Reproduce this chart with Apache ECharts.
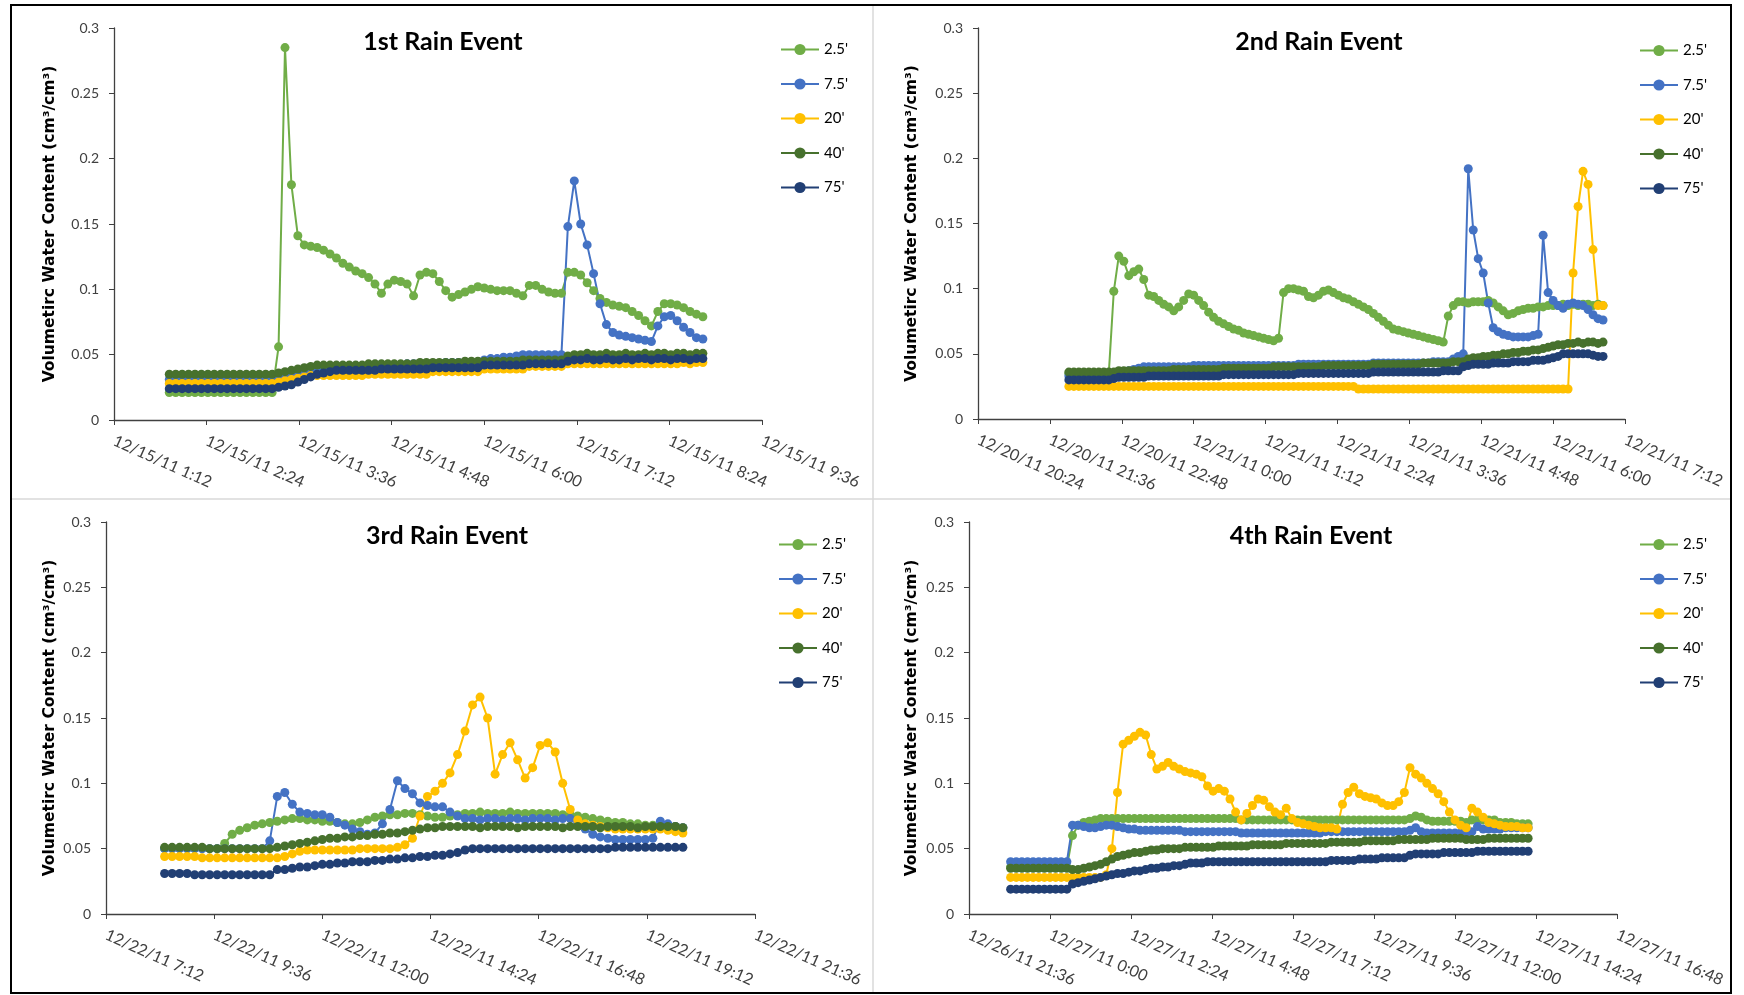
<!DOCTYPE html>
<html>
<head>
<meta charset="utf-8">
<title>Volumetric water content - rain events</title>
<script src="https://cdn.jsdelivr.net/npm/echarts@6/dist/echarts.min.js"></script>
<style>
  html, body { margin: 0; padding: 0; background: #fff; }
  #chart { width: 1744px; height: 995px; }
</style>
</head>
<body>
<div id="chart"></div>
<script>
// sensor depths and colours (same in every panel)
const depths = ["2.5'", "7.5'", "20'", "40'", "75'"]
const depthColors = ['#70ad47', '#4472c4', '#ffc000', '#47712d', '#213f74']

// x values are minutes after midnight of the first day of each event
// ---- 1st rain event: samples every 5 min from 1:55 ----
const ticks1 = ['12/15/11 1:12', '12/15/11 2:24', '12/15/11 3:36', '12/15/11 4:48', '12/15/11 6:00', '12/15/11 7:12', '12/15/11 8:24', '12/15/11 9:36']
const start1 = 115, step1 = 5
const e1_25 = [
  0.021, 0.021, 0.021, 0.021, 0.021, 0.021, 0.021, 0.021, 0.021, 0.021,
  0.021, 0.021, 0.021, 0.021, 0.021, 0.021, 0.021, 0.056, 0.285, 0.180,
  0.141, 0.134, 0.133, 0.132, 0.130, 0.127, 0.124, 0.120, 0.117, 0.114,
  0.112, 0.109, 0.104, 0.097, 0.104, 0.107, 0.106, 0.104, 0.095, 0.111,
  0.113, 0.112, 0.106, 0.099, 0.094, 0.096, 0.098, 0.100, 0.102, 0.101,
  0.100, 0.099, 0.099, 0.099, 0.097, 0.095, 0.103, 0.103, 0.100, 0.098,
  0.097, 0.097, 0.113, 0.113, 0.111, 0.105, 0.099, 0.093, 0.090, 0.088,
  0.087, 0.086, 0.083, 0.080, 0.076, 0.072, 0.083, 0.089, 0.089, 0.088,
  0.086, 0.083, 0.081, 0.079
]
const e1_75 = [
  0.031, 0.031, 0.031, 0.031, 0.031, 0.031, 0.031, 0.031, 0.031, 0.031,
  0.031, 0.031, 0.031, 0.031, 0.031, 0.031, 0.031, 0.032, 0.033, 0.034,
  0.036, 0.038, 0.039, 0.039, 0.040, 0.040, 0.041, 0.041, 0.041, 0.041,
  0.041, 0.042, 0.042, 0.042, 0.042, 0.042, 0.042, 0.043, 0.043, 0.043,
  0.043, 0.043, 0.043, 0.044, 0.044, 0.044, 0.044, 0.044, 0.044, 0.046,
  0.047, 0.047, 0.048, 0.048, 0.049, 0.050, 0.050, 0.050, 0.050, 0.050,
  0.050, 0.050, 0.148, 0.183, 0.150, 0.134, 0.112, 0.089, 0.073, 0.067,
  0.065, 0.064, 0.063, 0.062, 0.061, 0.060, 0.072, 0.079, 0.080, 0.076,
  0.071, 0.067, 0.063, 0.062
]
const e1_20 = [
  0.028, 0.028, 0.028, 0.028, 0.028, 0.028, 0.028, 0.028, 0.028, 0.028,
  0.028, 0.028, 0.028, 0.028, 0.028, 0.028, 0.028, 0.029, 0.030, 0.031,
  0.032, 0.033, 0.034, 0.034, 0.034, 0.034, 0.034, 0.034, 0.034, 0.034,
  0.034, 0.035, 0.035, 0.035, 0.035, 0.035, 0.035, 0.035, 0.035, 0.035,
  0.035, 0.037, 0.037, 0.037, 0.037, 0.037, 0.037, 0.037, 0.037, 0.039,
  0.039, 0.039, 0.039, 0.039, 0.039, 0.039, 0.041, 0.041, 0.041, 0.041,
  0.041, 0.041, 0.043, 0.043, 0.043, 0.043, 0.043, 0.043, 0.043, 0.043,
  0.043, 0.043, 0.043, 0.043, 0.043, 0.043, 0.043, 0.043, 0.043, 0.043,
  0.044, 0.043, 0.044, 0.044
]
const e1_40 = [
  0.035, 0.035, 0.035, 0.035, 0.035, 0.035, 0.035, 0.035, 0.035, 0.035,
  0.035, 0.035, 0.035, 0.035, 0.035, 0.035, 0.035, 0.036, 0.037, 0.038,
  0.039, 0.040, 0.041, 0.042, 0.042, 0.042, 0.042, 0.042, 0.042, 0.042,
  0.042, 0.043, 0.043, 0.043, 0.043, 0.043, 0.043, 0.043, 0.043, 0.044,
  0.044, 0.044, 0.044, 0.044, 0.044, 0.044, 0.045, 0.045, 0.045, 0.045,
  0.045, 0.045, 0.045, 0.045, 0.045, 0.046, 0.046, 0.046, 0.046, 0.046,
  0.046, 0.046, 0.049, 0.050, 0.050, 0.051, 0.050, 0.050, 0.051, 0.050,
  0.050, 0.051, 0.050, 0.050, 0.051, 0.050, 0.051, 0.051, 0.050, 0.051,
  0.051, 0.050, 0.051, 0.051
]
const e1_75ft = [
  0.024, 0.024, 0.024, 0.024, 0.024, 0.024, 0.024, 0.024, 0.024, 0.024,
  0.024, 0.024, 0.024, 0.024, 0.024, 0.024, 0.024, 0.025, 0.026, 0.027,
  0.029, 0.031, 0.033, 0.035, 0.036, 0.037, 0.038, 0.038, 0.038, 0.038,
  0.038, 0.038, 0.038, 0.039, 0.039, 0.039, 0.039, 0.039, 0.039, 0.039,
  0.039, 0.040, 0.040, 0.040, 0.040, 0.040, 0.040, 0.040, 0.040, 0.042,
  0.042, 0.042, 0.042, 0.042, 0.042, 0.042, 0.043, 0.043, 0.043, 0.043,
  0.043, 0.043, 0.045, 0.046, 0.046, 0.047, 0.046, 0.046, 0.047, 0.046,
  0.046, 0.047, 0.046, 0.047, 0.047, 0.046, 0.047, 0.047, 0.046, 0.047,
  0.047, 0.046, 0.047, 0.047
]

// ---- 2nd rain event: samples every 5 min from 21:55 ----
const ticks2 = ['12/20/11 20:24', '12/20/11 21:36', '12/20/11 22:48', '12/21/11 0:00', '12/21/11 1:12', '12/21/11 2:24', '12/21/11 3:36', '12/21/11 4:48', '12/21/11 6:00', '12/21/11 7:12']
const start2 = 1315, step2 = 5
const e2_25 = [
  0.035, 0.035, 0.035, 0.035, 0.035, 0.035, 0.035, 0.035, 0.035, 0.098,
  0.125, 0.121, 0.110, 0.113, 0.115, 0.107, 0.095, 0.094, 0.091, 0.088,
  0.086, 0.083, 0.086, 0.091, 0.096, 0.095, 0.091, 0.087, 0.082, 0.078,
  0.075, 0.073, 0.071, 0.069, 0.068, 0.066, 0.065, 0.064, 0.063, 0.062,
  0.061, 0.060, 0.062, 0.097, 0.100, 0.100, 0.099, 0.098, 0.094, 0.093,
  0.095, 0.098, 0.099, 0.097, 0.095, 0.093, 0.092, 0.090, 0.088, 0.086,
  0.084, 0.081, 0.078, 0.075, 0.072, 0.069, 0.068, 0.067, 0.066, 0.065,
  0.064, 0.063, 0.062, 0.061, 0.060, 0.059, 0.079, 0.087, 0.090, 0.090,
  0.089, 0.090, 0.090, 0.090, 0.091, 0.089, 0.086, 0.083, 0.080, 0.081,
  0.083, 0.084, 0.085, 0.085, 0.086, 0.086, 0.087, 0.087, 0.087, 0.088,
  0.087, 0.088, 0.087, 0.088, 0.088, 0.087, 0.088, 0.087
]
const e2_75 = [
  0.033, 0.033, 0.033, 0.033, 0.033, 0.033, 0.033, 0.033, 0.033, 0.034,
  0.035, 0.036, 0.037, 0.038, 0.039, 0.040, 0.040, 0.040, 0.040, 0.040,
  0.040, 0.040, 0.040, 0.040, 0.040, 0.041, 0.041, 0.041, 0.041, 0.041,
  0.041, 0.041, 0.041, 0.041, 0.041, 0.041, 0.041, 0.041, 0.041, 0.041,
  0.041, 0.041, 0.041, 0.041, 0.041, 0.041, 0.042, 0.042, 0.042, 0.042,
  0.042, 0.042, 0.042, 0.042, 0.042, 0.042, 0.042, 0.042, 0.042, 0.042,
  0.042, 0.043, 0.043, 0.043, 0.043, 0.043, 0.043, 0.043, 0.043, 0.043,
  0.043, 0.043, 0.043, 0.044, 0.044, 0.044, 0.044, 0.046, 0.048, 0.050,
  0.192, 0.145, 0.123, 0.112, 0.089, 0.070, 0.067, 0.065, 0.064, 0.063,
  0.063, 0.063, 0.063, 0.064, 0.065, 0.141, 0.097, 0.091, 0.087, 0.085,
  0.088, 0.089, 0.088, 0.087, 0.084, 0.080, 0.077, 0.076
]
const e2_20 = [
  0.025, 0.025, 0.025, 0.025, 0.025, 0.025, 0.025, 0.025, 0.025, 0.025,
  0.025, 0.025, 0.025, 0.025, 0.025, 0.025, 0.025, 0.025, 0.025, 0.025,
  0.025, 0.025, 0.025, 0.025, 0.025, 0.025, 0.025, 0.025, 0.025, 0.025,
  0.025, 0.025, 0.025, 0.025, 0.025, 0.025, 0.025, 0.025, 0.025, 0.025,
  0.025, 0.025, 0.025, 0.025, 0.025, 0.025, 0.025, 0.025, 0.025, 0.025,
  0.025, 0.025, 0.025, 0.025, 0.025, 0.025, 0.025, 0.025, 0.023, 0.023,
  0.023, 0.023, 0.023, 0.023, 0.023, 0.023, 0.023, 0.023, 0.023, 0.023,
  0.023, 0.023, 0.023, 0.023, 0.023, 0.023, 0.023, 0.023, 0.023, 0.023,
  0.023, 0.023, 0.023, 0.023, 0.023, 0.023, 0.023, 0.023, 0.023, 0.023,
  0.023, 0.023, 0.023, 0.023, 0.023, 0.023, 0.023, 0.023, 0.023, 0.023,
  0.023, 0.112, 0.163, 0.190, 0.180, 0.130, 0.087, 0.087
]
const e2_40 = [
  0.036, 0.036, 0.036, 0.036, 0.036, 0.036, 0.036, 0.036, 0.036, 0.036,
  0.037, 0.037, 0.037, 0.037, 0.037, 0.037, 0.037, 0.037, 0.037, 0.037,
  0.037, 0.038, 0.038, 0.038, 0.038, 0.038, 0.038, 0.038, 0.038, 0.038,
  0.038, 0.039, 0.039, 0.039, 0.039, 0.039, 0.039, 0.039, 0.039, 0.039,
  0.039, 0.040, 0.040, 0.040, 0.040, 0.040, 0.040, 0.040, 0.040, 0.040,
  0.040, 0.041, 0.041, 0.041, 0.041, 0.041, 0.041, 0.041, 0.041, 0.041,
  0.041, 0.042, 0.042, 0.042, 0.042, 0.042, 0.042, 0.042, 0.042, 0.042,
  0.042, 0.043, 0.043, 0.043, 0.043, 0.043, 0.043, 0.044, 0.044, 0.044,
  0.046, 0.047, 0.047, 0.048, 0.048, 0.049, 0.049, 0.050, 0.050, 0.051,
  0.051, 0.052, 0.052, 0.053, 0.053, 0.054, 0.055, 0.056, 0.057, 0.057,
  0.058, 0.058, 0.059, 0.058, 0.059, 0.059, 0.058, 0.059
]
const e2_75ft = [
  0.030, 0.030, 0.030, 0.030, 0.030, 0.030, 0.030, 0.030, 0.030, 0.031,
  0.032, 0.032, 0.032, 0.032, 0.032, 0.032, 0.033, 0.033, 0.033, 0.033,
  0.033, 0.033, 0.033, 0.033, 0.033, 0.033, 0.033, 0.033, 0.033, 0.033,
  0.033, 0.034, 0.034, 0.034, 0.034, 0.034, 0.034, 0.034, 0.034, 0.034,
  0.034, 0.034, 0.034, 0.034, 0.034, 0.034, 0.035, 0.035, 0.035, 0.035,
  0.035, 0.035, 0.035, 0.035, 0.035, 0.035, 0.035, 0.035, 0.035, 0.035,
  0.035, 0.036, 0.036, 0.036, 0.036, 0.036, 0.036, 0.036, 0.036, 0.036,
  0.036, 0.036, 0.036, 0.036, 0.036, 0.037, 0.037, 0.037, 0.037, 0.040,
  0.041, 0.042, 0.042, 0.042, 0.042, 0.043, 0.043, 0.043, 0.043, 0.044,
  0.044, 0.044, 0.044, 0.045, 0.045, 0.045, 0.046, 0.047, 0.048, 0.050,
  0.050, 0.050, 0.050, 0.050, 0.050, 0.049, 0.048, 0.048
]

// ---- 3rd rain event: samples every 10 min from 8:30 ----
const ticks3 = ['12/22/11 7:12', '12/22/11 9:36', '12/22/11 12:00', '12/22/11 14:24', '12/22/11 16:48', '12/22/11 19:12', '12/22/11 21:36']
const start3 = 510, step3 = 10
const e3_25 = [
  0.050, 0.050, 0.050, 0.050, 0.050, 0.050, 0.050, 0.050, 0.054, 0.061,
  0.064, 0.066, 0.068, 0.069, 0.070, 0.071, 0.072, 0.073, 0.073, 0.072,
  0.072, 0.071, 0.071, 0.070, 0.069, 0.069, 0.070, 0.072, 0.074, 0.075,
  0.076, 0.076, 0.077, 0.077, 0.076, 0.075, 0.074, 0.074, 0.075, 0.076,
  0.077, 0.077, 0.078, 0.077, 0.077, 0.077, 0.078, 0.077, 0.077, 0.077,
  0.077, 0.077, 0.077, 0.076, 0.076, 0.075, 0.074, 0.073, 0.072, 0.071,
  0.070, 0.070, 0.069, 0.069, 0.068, 0.068, 0.068, 0.068, 0.067, 0.066
]
const e3_75 = [
  0.050, 0.050, 0.050, 0.050, 0.050, 0.050, 0.050, 0.050, 0.050, 0.050,
  0.050, 0.050, 0.050, 0.050, 0.056, 0.090, 0.093, 0.084, 0.078, 0.077,
  0.076, 0.076, 0.074, 0.070, 0.068, 0.065, 0.063, 0.061, 0.062, 0.069,
  0.080, 0.102, 0.096, 0.092, 0.085, 0.083, 0.082, 0.082, 0.078, 0.075,
  0.073, 0.073, 0.072, 0.073, 0.073, 0.072, 0.073, 0.073, 0.072, 0.073,
  0.073, 0.073, 0.072, 0.073, 0.073, 0.070, 0.065, 0.061, 0.059, 0.058,
  0.057, 0.057, 0.057, 0.057, 0.057, 0.058, 0.071, 0.069, 0.067, 0.066
]
const e3_20 = [
  0.044, 0.044, 0.044, 0.044, 0.044, 0.043, 0.043, 0.043, 0.043, 0.043,
  0.043, 0.043, 0.043, 0.043, 0.043, 0.043, 0.044, 0.046, 0.048, 0.049,
  0.049, 0.049, 0.049, 0.049, 0.049, 0.049, 0.050, 0.050, 0.050, 0.050,
  0.050, 0.051, 0.053, 0.058, 0.075, 0.090, 0.094, 0.100, 0.108, 0.122,
  0.140, 0.160, 0.166, 0.150, 0.107, 0.122, 0.131, 0.118, 0.104, 0.112,
  0.129, 0.131, 0.124, 0.100, 0.080, 0.072, 0.069, 0.068, 0.067, 0.066,
  0.065, 0.065, 0.065, 0.065, 0.065, 0.065, 0.065, 0.064, 0.063, 0.062
]
const e3_40 = [
  0.051, 0.051, 0.051, 0.051, 0.051, 0.051, 0.050, 0.050, 0.050, 0.050,
  0.050, 0.050, 0.050, 0.050, 0.050, 0.051, 0.052, 0.053, 0.054, 0.055,
  0.056, 0.057, 0.058, 0.058, 0.059, 0.059, 0.060, 0.060, 0.061, 0.061,
  0.062, 0.062, 0.063, 0.064, 0.065, 0.066, 0.066, 0.067, 0.067, 0.067,
  0.067, 0.067, 0.066, 0.067, 0.067, 0.067, 0.067, 0.066, 0.067, 0.067,
  0.067, 0.067, 0.067, 0.066, 0.067, 0.067, 0.067, 0.067, 0.066, 0.067,
  0.067, 0.067, 0.067, 0.066, 0.067, 0.067, 0.067, 0.067, 0.067, 0.066
]
const e3_75ft = [
  0.031, 0.031, 0.031, 0.031, 0.030, 0.030, 0.030, 0.030, 0.030, 0.030,
  0.030, 0.030, 0.030, 0.030, 0.030, 0.034, 0.034, 0.035, 0.036, 0.036,
  0.037, 0.038, 0.038, 0.039, 0.039, 0.040, 0.040, 0.040, 0.041, 0.041,
  0.042, 0.042, 0.043, 0.043, 0.044, 0.044, 0.045, 0.045, 0.046, 0.047,
  0.049, 0.050, 0.050, 0.050, 0.050, 0.050, 0.050, 0.050, 0.050, 0.050,
  0.050, 0.050, 0.050, 0.050, 0.050, 0.050, 0.050, 0.050, 0.050, 0.050,
  0.051, 0.051, 0.051, 0.051, 0.051, 0.051, 0.051, 0.051, 0.051, 0.051
]

// ---- 4th rain event: samples every 10 min from 22:50 ----
const ticks4 = ['12/26/11 21:36', '12/27/11 0:00', '12/27/11 2:24', '12/27/11 4:48', '12/27/11 7:12', '12/27/11 9:36', '12/27/11 12:00', '12/27/11 14:24', '12/27/11 16:48']
const start4 = 1370, step4 = 10
const e4_25 = [
  0.036, 0.036, 0.036, 0.036, 0.036, 0.036, 0.036, 0.036, 0.036, 0.036,
  0.036, 0.060, 0.068, 0.070, 0.071, 0.072, 0.073, 0.073, 0.073, 0.073,
  0.073, 0.073, 0.073, 0.073, 0.073, 0.073, 0.073, 0.073, 0.073, 0.073,
  0.073, 0.073, 0.073, 0.073, 0.073, 0.073, 0.073, 0.073, 0.073, 0.073,
  0.073, 0.072, 0.072, 0.072, 0.072, 0.072, 0.072, 0.072, 0.072, 0.072,
  0.072, 0.072, 0.072, 0.072, 0.072, 0.072, 0.072, 0.072, 0.072, 0.072,
  0.072, 0.072, 0.072, 0.072, 0.072, 0.072, 0.072, 0.072, 0.072, 0.072,
  0.072, 0.073, 0.075, 0.074, 0.072, 0.071, 0.071, 0.071, 0.071, 0.071,
  0.071, 0.070, 0.072, 0.072, 0.072, 0.072, 0.072, 0.070, 0.070, 0.070,
  0.069, 0.069, 0.069
]
const e4_75 = [
  0.040, 0.040, 0.040, 0.040, 0.040, 0.040, 0.040, 0.040, 0.040, 0.040,
  0.040, 0.068, 0.068, 0.067, 0.066, 0.066, 0.067, 0.068, 0.068, 0.067,
  0.066, 0.065, 0.065, 0.064, 0.064, 0.064, 0.064, 0.064, 0.064, 0.064,
  0.064, 0.063, 0.063, 0.063, 0.063, 0.063, 0.063, 0.063, 0.063, 0.063,
  0.063, 0.062, 0.062, 0.062, 0.062, 0.062, 0.062, 0.062, 0.062, 0.062,
  0.062, 0.062, 0.062, 0.062, 0.062, 0.062, 0.063, 0.063, 0.063, 0.063,
  0.063, 0.063, 0.063, 0.063, 0.063, 0.063, 0.063, 0.063, 0.063, 0.063,
  0.063, 0.064, 0.066, 0.063, 0.062, 0.062, 0.062, 0.062, 0.062, 0.062,
  0.062, 0.062, 0.063, 0.067, 0.065, 0.065, 0.065, 0.065, 0.066, 0.066,
  0.066, 0.066, 0.066
]
const e4_20 = [
  0.028, 0.028, 0.028, 0.028, 0.028, 0.028, 0.028, 0.028, 0.028, 0.028,
  0.028, 0.028, 0.028, 0.028, 0.028, 0.028, 0.028, 0.030, 0.050, 0.093,
  0.130, 0.133, 0.136, 0.139, 0.137, 0.122, 0.111, 0.113, 0.116, 0.113,
  0.111, 0.109, 0.108, 0.107, 0.105, 0.098, 0.094, 0.096, 0.094, 0.088,
  0.078, 0.072, 0.077, 0.083, 0.088, 0.087, 0.082, 0.078, 0.076, 0.081,
  0.073, 0.070, 0.069, 0.068, 0.067, 0.066, 0.066, 0.066, 0.065, 0.084,
  0.093, 0.097, 0.092, 0.090, 0.089, 0.088, 0.085, 0.083, 0.083, 0.086,
  0.093, 0.112, 0.107, 0.104, 0.100, 0.096, 0.092, 0.086, 0.078, 0.072,
  0.068, 0.066, 0.081, 0.078, 0.074, 0.070, 0.069, 0.068, 0.067, 0.067,
  0.067, 0.066, 0.066
]
const e4_40 = [
  0.035, 0.035, 0.035, 0.035, 0.035, 0.035, 0.035, 0.035, 0.035, 0.035,
  0.035, 0.034, 0.034, 0.035, 0.036, 0.037, 0.038, 0.040, 0.042, 0.044,
  0.045, 0.046, 0.047, 0.047, 0.048, 0.049, 0.049, 0.050, 0.050, 0.050,
  0.050, 0.051, 0.051, 0.051, 0.051, 0.051, 0.051, 0.052, 0.052, 0.052,
  0.052, 0.052, 0.052, 0.053, 0.053, 0.053, 0.053, 0.053, 0.053, 0.054,
  0.054, 0.054, 0.054, 0.054, 0.054, 0.054, 0.054, 0.055, 0.055, 0.055,
  0.055, 0.055, 0.055, 0.056, 0.056, 0.056, 0.056, 0.056, 0.056, 0.057,
  0.057, 0.057, 0.057, 0.057, 0.057, 0.058, 0.058, 0.058, 0.058, 0.058,
  0.058, 0.057, 0.057, 0.057, 0.057, 0.058, 0.058, 0.058, 0.058, 0.058,
  0.058, 0.058, 0.058
]
const e4_75ft = [
  0.019, 0.019, 0.019, 0.019, 0.019, 0.019, 0.019, 0.019, 0.019, 0.019,
  0.019, 0.023, 0.024, 0.025, 0.026, 0.027, 0.028, 0.029, 0.030, 0.031,
  0.031, 0.032, 0.033, 0.033, 0.034, 0.035, 0.035, 0.036, 0.036, 0.037,
  0.037, 0.038, 0.039, 0.039, 0.039, 0.040, 0.040, 0.040, 0.040, 0.040,
  0.040, 0.040, 0.040, 0.040, 0.040, 0.040, 0.040, 0.040, 0.040, 0.040,
  0.040, 0.040, 0.040, 0.040, 0.040, 0.040, 0.040, 0.041, 0.041, 0.041,
  0.041, 0.041, 0.042, 0.042, 0.042, 0.042, 0.043, 0.043, 0.043, 0.043,
  0.043, 0.045, 0.046, 0.046, 0.046, 0.046, 0.046, 0.047, 0.047, 0.047,
  0.047, 0.047, 0.047, 0.048, 0.048, 0.048, 0.048, 0.048, 0.048, 0.048,
  0.048, 0.048, 0.048
]

const panels = [
  { title: '1st Rain Event', ticks: ticks1, min: 72, interval: 72, start: start1, step: step1,
    values: [e1_25, e1_75, e1_20, e1_40, e1_75ft],
    grid: { left: 114, top: 28, width: 648, height: 392 }, titleX: 438, titleY: 24, legendX: 775, legendY: 37, nameGap: 56 },
  { title: '2nd Rain Event', ticks: ticks2, min: 1224, interval: 72, start: start2, step: step2,
    values: [e2_25, e2_75, e2_20, e2_40, e2_75ft],
    grid: { left: 978, top: 28, width: 647, height: 391 }, titleX: 1314, titleY: 24, legendX: 1634, legendY: 38, nameGap: 58 },
  { title: '3rd Rain Event', ticks: ticks3, min: 432, interval: 144, start: start3, step: step3,
    values: [e3_25, e3_75, e3_20, e3_40, e3_75ft],
    grid: { left: 106, top: 522, width: 649, height: 392 }, titleX: 442, titleY: 518, legendX: 773, legendY: 532, nameGap: 48 },
  { title: '4th Rain Event', ticks: ticks4, min: 1296, interval: 144, start: start4, step: step4,
    values: [e4_25, e4_75, e4_20, e4_40, e4_75ft],
    grid: { left: 969, top: 522, width: 648, height: 392 }, titleX: 1306, titleY: 518, legendX: 1634, legendY: 532, nameGap: 49 }
]

const chart = echarts.init(document.getElementById('chart'))

const grids = [], xAxes = [], yAxes = [], titles = [], legends = [], series = []

panels.forEach((p, k) => {
  grids.push(Object.assign({ containLabel: false, outerBoundsMode: 'none' }, p.grid))

  xAxes.push({
    type: 'value',
    gridIndex: k,
    min: p.min,
    max: p.min + p.interval * (p.ticks.length - 1),
    interval: p.interval,
    splitLine: { show: false },
    axisLine: { lineStyle: { color: '#404040', width: 1.3 } },
    axisTick: { show: true, inside: false, length: 5, lineStyle: { color: '#404040' } },
    axisLabel: {
      rotate: -24,
      margin: 20,
      showMinLabel: true,
      showMaxLabel: true,
      fontFamily: 'Lato',
      fontSize: 16,
      color: '#404040',
      formatter: function (v) {
        return p.ticks[Math.round((v - p.min) / p.interval)] || ''
      }
    }
  })

  yAxes.push({
    type: 'value',
    gridIndex: k,
    min: 0,
    max: 0.3,
    interval: 0.05,
    splitLine: { show: false },
    axisLine: { show: true, lineStyle: { color: '#404040', width: 1.3 } },
    axisTick: { show: true, length: 5, lineStyle: { color: '#404040' } },
    axisLabel: { margin: 15, fontFamily: 'Lato', fontSize: 14, color: '#404040' },
    name: 'Volumetirc Water Content (cm³/cm³)',
    nameLocation: 'middle',
    nameGap: p.nameGap,
    nameTextStyle: { fontFamily: 'DejaVu Sans', fontWeight: 'bold', fontSize: 15.5, color: '#000' }
  })

  titles.push({
    text: p.title,
    left: p.titleX,
    top: p.titleY,
    textAlign: 'center',
    textStyle: { fontFamily: 'Lato', fontWeight: 'bold', fontSize: 25, color: '#000' }
  })

  legends.push({
    data: depths,
    orient: 'vertical',
    left: p.legendX,
    top: p.legendY,
    itemWidth: 38,
    itemHeight: 14,
    itemGap: 19.5,
    textStyle: { fontFamily: 'Lato', fontSize: 15, color: '#000' }
  })

  p.values.forEach((vals, j) => {
    series.push({
      name: depths[j],
      type: 'line',
      xAxisIndex: k,
      yAxisIndex: k,
      data: vals.map((v, i) => [p.start + i * p.step, v]),
      symbol: 'circle',
      symbolSize: 9,
      showAllSymbol: true,
      color: depthColors[j],
      lineStyle: { color: depthColors[j], width: 2 },
      itemStyle: { color: depthColors[j] },
      emphasis: { disabled: true }
    })
  })
})

chart.setOption({
  animation: false,
  backgroundColor: '#fff',
  title: titles,
  legend: legends,
  grid: grids,
  xAxis: xAxes,
  yAxis: yAxes,
  series: series,
  graphic: [
    { type: 'line', shape: { x1: 873, y1: 6, x2: 873, y2: 992 }, style: { stroke: '#d9d9d9', lineWidth: 1.5 } },
    { type: 'line', shape: { x1: 12, y1: 499, x2: 1730, y2: 499 }, style: { stroke: '#d9d9d9', lineWidth: 1.5 } },
    { type: 'rect', shape: { x: 11, y: 5, width: 1720, height: 988 }, style: { fill: 'none', stroke: '#000', lineWidth: 2 } }
  ]
})
</script>
</body>
</html>
